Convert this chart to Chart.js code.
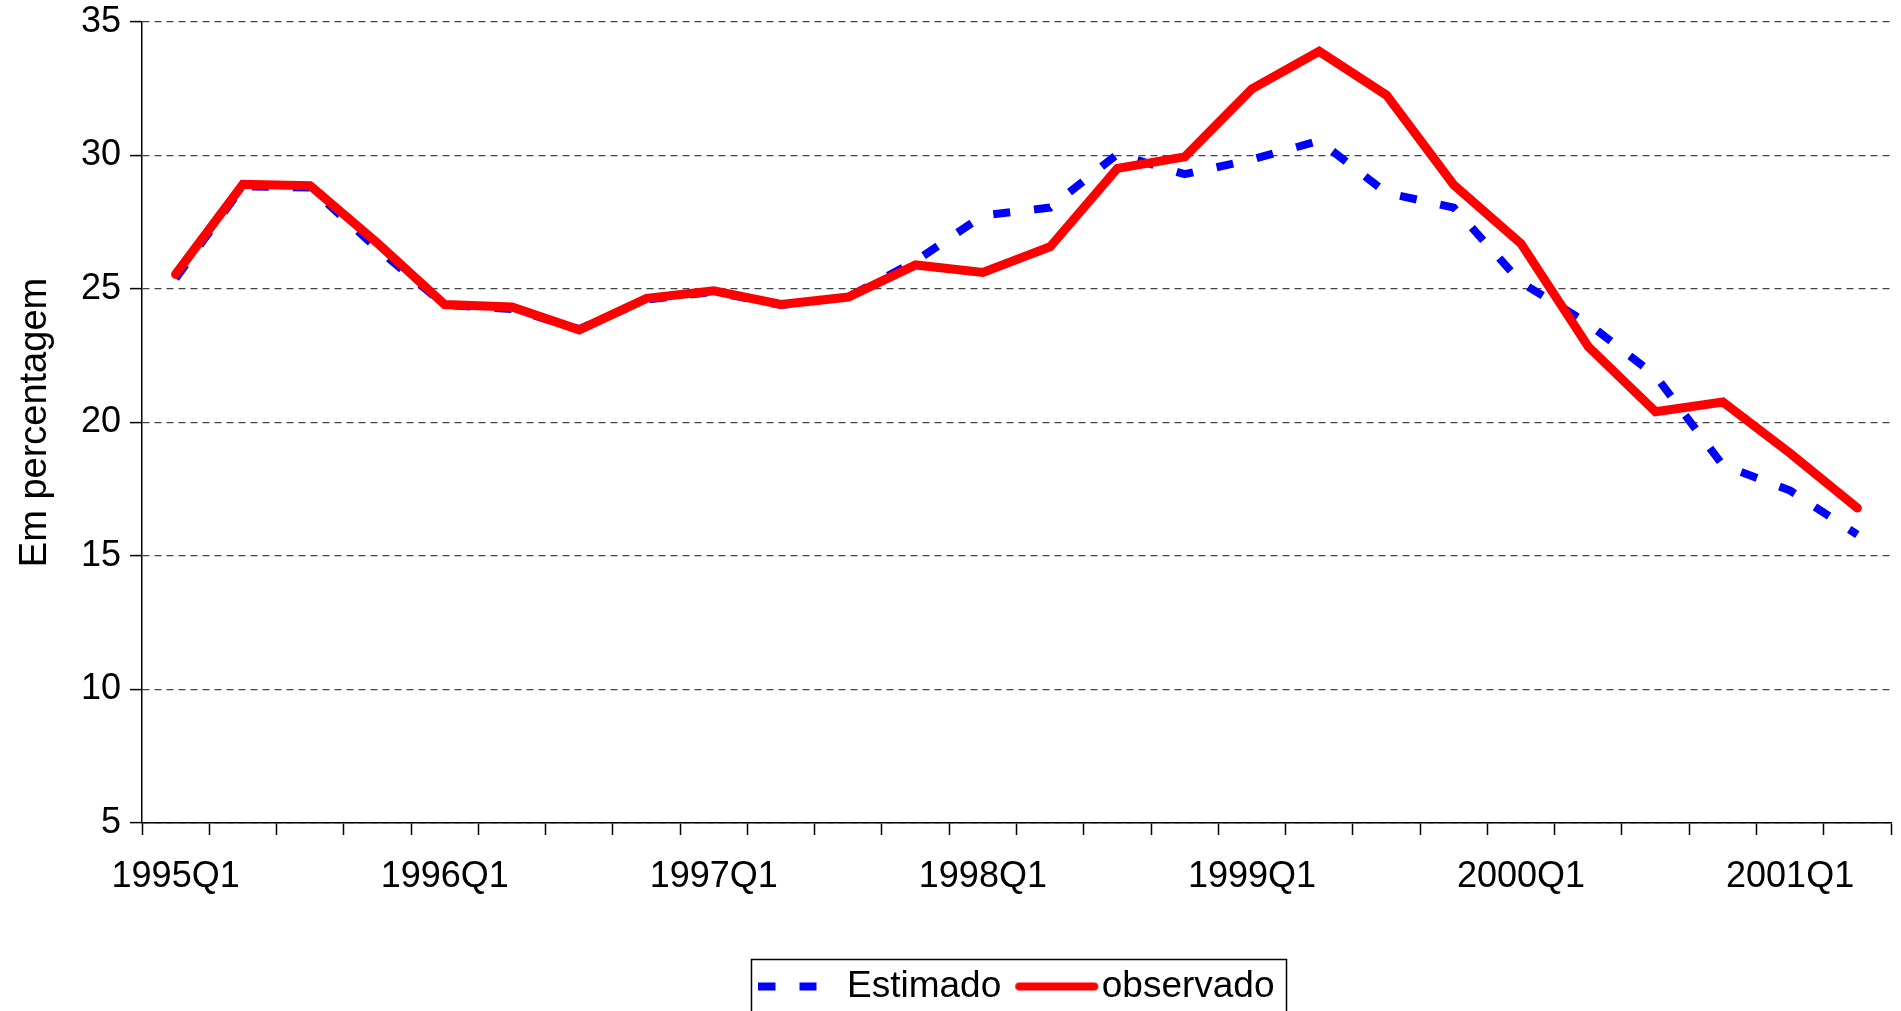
<!DOCTYPE html>
<html>
<head>
<meta charset="utf-8">
<script src="https://cdn.jsdelivr.net/npm/chart.js@4.4.0/dist/chart.umd.min.js"></script>
<style>
  html, body { margin: 0; padding: 0; background: #fff; overflow: hidden; }
  #wrap { width: 1901px; height: 1015px; position: relative; }
</style>
</head>
<body>
<div id="wrap"><canvas id="chart1"></canvas></div>
<script>
var quarters = [
    '1995Q1', '1995Q2', '1995Q3', '1995Q4',
    '1996Q1', '1996Q2', '1996Q3', '1996Q4',
    '1997Q1', '1997Q2', '1997Q3', '1997Q4',
    '1998Q1', '1998Q2', '1998Q3', '1998Q4',
    '1999Q1', '1999Q2', '1999Q3', '1999Q4',
    '2000Q1', '2000Q2', '2000Q3', '2000Q4',
    '2001Q1', '2001Q2'
];
var estimado = [
    25.4, 28.85, 28.8, 26.5,
    24.4, 24.25, 23.5, 24.6,
    24.9, 24.4, 24.7, 26.05,
    27.75, 28.05, 30.05, 29.3,
    29.85, 30.55, 28.6, 28.05,
    25.25, 23.7, 21.75, 18.4,
    17.45, 15.8
];
var observado = [
    25.55, 28.92, 28.87, 26.72,
    24.42, 24.33, 23.47, 24.65,
    24.93, 24.42, 24.7, 25.9,
    25.62, 26.58, 29.52, 29.95,
    32.5, 33.9, 32.26, 28.9,
    26.7, 22.84, 20.4, 20.77,
    18.85, 16.8
];
var yMin = 5, yMax = 35, yStep = 5;

// legend symbols (dashed blue, solid red)
function dashIcon() {
    var c = document.createElement('canvas');
    c.width = 70; c.height = 10;
    var g = c.getContext('2d');
    g.fillStyle = '#0000ff';
    g.fillRect(0, 1, 17, 8);
    g.fillRect(41, 1, 17, 8);
    return c;
}
function lineIcon() {
    var c = document.createElement('canvas');
    c.width = 102; c.height = 12;
    var g = c.getContext('2d');
    g.strokeStyle = '#ff0000';
    g.lineWidth = 8;
    g.lineCap = 'round';
    g.beginPath();
    g.moveTo(22, 6);
    g.lineTo(97, 6);
    g.stroke();
    return c;
}

// legend frame
var legendBorder = {
    id: 'legendBorder',
    afterDraw: function(chart) {
        var boxes = chart.legend && chart.legend.legendHitBoxes;
        if (!boxes || !boxes.length) return;
        var l = Math.min.apply(null, boxes.map(function(b) { return b.left; }));
        var r = Math.max.apply(null, boxes.map(function(b) { return b.left + b.width; }));
        var cy = boxes[0].top + boxes[0].height / 2;
        var ctx = chart.ctx;
        ctx.save();
        ctx.strokeStyle = '#000';
        ctx.lineWidth = 1.5;
        ctx.strokeRect(l - 7, cy - 27, r - l + 19, 54);
        ctx.restore();
    }
};

var ctx = document.getElementById('chart1').getContext('2d');
var myChart = new Chart(ctx, {
    type: 'line',
    data: {
        labels: quarters,
        datasets: [{
            label: 'Estimado',
            data: estimado,
            borderColor: '#0000ff',
            backgroundColor: '#0000ff',
            borderWidth: 8,
            borderDash: [17, 24],
            borderCapStyle: 'butt',
            tension: 0,
            pointRadius: 0,
            pointStyle: dashIcon(),
            order: 2
        },
        {
            label: 'observado',
            data: observado,
            borderColor: '#ff0000',
            backgroundColor: '#ff0000',
            borderWidth: 9,
            borderCapStyle: 'round',
            borderJoinStyle: 'miter',
            tension: 0,
            pointRadius: 0,
            pointStyle: lineIcon(),
            order: 1
        }]
    },
    options: {
        responsive: true,
        maintainAspectRatio: false,
        animation: false,
        layout: {
            padding: { left: 9, right: 10, top: 0, bottom: 0 }
        },
        scales: {
            x: {
                offset: true,
                grid: {
                    offset: true,
                    drawOnChartArea: false,
                    tickLength: 12,
                    tickColor: '#000',
                    tickWidth: 1.5
                },
                border: { color: '#000', width: 1.5 },
                ticks: {
                    autoSkip: false,
                    maxRotation: 0,
                    color: '#000',
                    padding: 20,
                    font: { family: 'Liberation Sans, Arial', size: 36 },
                    callback: function(v, i) {
                        return quarters[i].slice(4) === 'Q1' ? quarters[i] : '';
                    }
                },
                afterFit: function(scale) { scale.height = 133; }
            },
            y: {
                min: yMin,
                max: yMax,
                grid: {
                    color: '#444',
                    lineWidth: 1.2,
                    tickLength: 12,
                    tickColor: '#000',
                    tickWidth: 1.5
                },
                border: { color: '#000', width: 1.5, dash: [7, 5] },
                ticks: {
                    stepSize: yStep,
                    color: '#000',
                    padding: 9,
                    font: { family: 'Liberation Sans, Arial', size: 36 }
                },
                title: {
                    display: true,
                    text: 'Em percentagem',
                    color: '#000',
                    padding: { top: 4, bottom: 4 },
                    font: { family: 'Liberation Sans, Arial', size: 38 }
                },
                afterFit: function(scale) {
                    scale.width = 133;
                    scale.paddingTop = 22;
                    scale.paddingBottom = 0;
                }
            }
        },
        plugins: {
            legend: {
                position: 'bottom',
                fullSize: false,
                labels: {
                    usePointStyle: true,
                    pointStyleWidth: 70,
                    padding: 12,
                    color: '#000',
                    font: { family: 'Liberation Sans, Arial', size: 37 },
                    sort: function(a, b) { return a.datasetIndex - b.datasetIndex; }
                }
            },
            tooltip: { enabled: false }
        }
    },
    plugins: [legendBorder]
});
</script>
</body>
</html>
